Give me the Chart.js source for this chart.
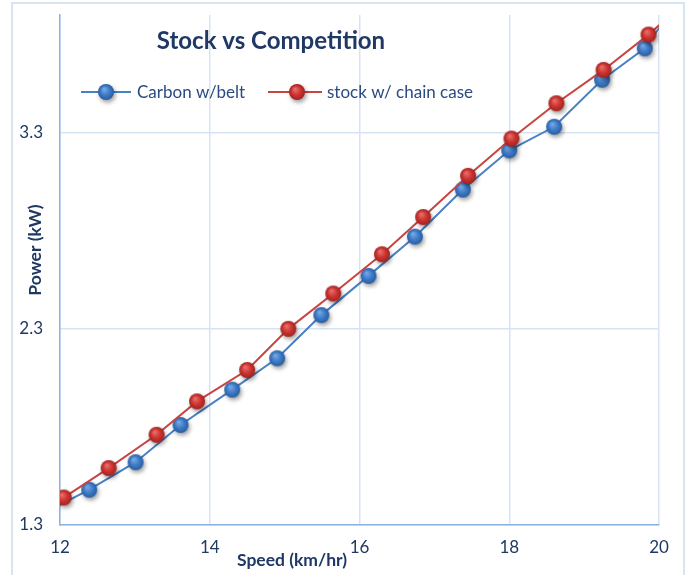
<!DOCTYPE html>
<html>
<head>
<meta charset="utf-8">
<script src="https://cdn.jsdelivr.net/npm/chart.js@4.4.1/dist/chart.umd.min.js"></script>
<style>
  html, body { margin: 0; padding: 0; background: #ffffff; }
  #wrap { width: 688px; height: 575px; position: relative; }
</style>
</head>
<body>
<div id="wrap"><canvas id="chart" width="688" height="575"></canvas></div>
<script>
// Texts
const chartTitle = 'Stock vs Competition';
const xAxisTitle = 'Speed (km/hr)';
const yAxisTitle = 'Power (kW)';
const seriesNames = ['Carbon w/belt', 'stock w/ chain case'];

// Carbon frame with belt drive
const carbonSpeed = [11.79, 12.39, 13.01, 13.61, 14.30, 14.90, 15.49, 16.12, 16.74, 17.38, 18.00, 18.60, 19.24, 19.81, 20.40];
const carbonPower = [1.36, 1.48, 1.62, 1.81, 1.99, 2.15, 2.37, 2.57, 2.77, 3.01, 3.21, 3.33, 3.57, 3.73, 4.05];

// Stock bike with chain case
const chainSpeed = [12.05, 12.65, 13.29, 13.83, 14.50, 15.05, 15.65, 16.30, 16.85, 17.45, 18.03, 18.63, 19.26, 19.86, 20.45];
const chainPower = [1.44, 1.59, 1.76, 1.93, 2.09, 2.30, 2.48, 2.68, 2.87, 3.08, 3.27, 3.45, 3.62, 3.80, 4.00];

// Axis ticks
const xTicks = [12, 14, 16, 18, 20];
const yTicks = [1.3, 2.3, 3.3];

const NAVY = '#1F3864';
const FONT = 'Lato, "Open Sans", sans-serif';

// Shaded round marker with a soft drop shadow
function makeMarker(light, base, dark) {
  const size = 30, c = size / 2, r = 8;
  const cv = document.createElement('canvas');
  cv.width = cv.height = size;
  const g = cv.getContext('2d');
  g.shadowColor = 'rgba(0,0,0,0.38)';
  g.shadowBlur = 4;
  g.shadowOffsetX = 1.5;
  g.shadowOffsetY = 2.5;
  const grad = g.createRadialGradient(c - 2, c - 3, 0.5, c, c, r);
  grad.addColorStop(0, light);
  grad.addColorStop(0.55, base);
  grad.addColorStop(1, dark);
  g.fillStyle = grad;
  g.beginPath();
  g.arc(c, c, r, 0, Math.PI * 2);
  g.fill();
  return cv;
}

const blueMarker = makeMarker('#78A9E4', '#3D7BC8', '#2A5C9F');
const redMarker = makeMarker('#E8706B', '#CD3430', '#A02220');

const toPoints = (xs, ys) => xs.map((x, i) => ({ x: x, y: ys[i] }));

const datasets = [
  {
    label: seriesNames[0],
    data: toPoints(carbonSpeed, carbonPower),
    borderColor: '#4A80C4',
    borderWidth: 2,
    pointStyle: blueMarker,
    order: 1
  },
  {
    label: seriesNames[1],
    data: toPoints(chainSpeed, chainPower),
    borderColor: '#C84442',
    borderWidth: 2,
    pointStyle: redMarker,
    order: 0
  }
];

// Fixed scale sizes, no extra label padding around the plot
function fixScale(size) {
  return (scale) => {
    if (scale.isHorizontal()) scale.height = size; else scale.width = size;
    scale.paddingTop = 0;
    scale.paddingBottom = 0;
    scale.paddingLeft = 0;
    scale.paddingRight = 0;
  };
}

// Frame, title, legend and axis titles drawn on the canvas
const decorations = {
  id: 'decorations',
  beforeDraw(chart) {
    const ctx = chart.ctx;
    ctx.save();
    ctx.fillStyle = '#ffffff';
    ctx.fillRect(0, 0, chart.width, chart.height);
    ctx.strokeStyle = '#CADBF0';
    ctx.lineWidth = 1.5;
    ctx.strokeRect(12, 3, 672, 640);
    ctx.restore();
  },
  afterDraw(chart) {
    const ctx = chart.ctx;
    ctx.save();
    ctx.fillStyle = NAVY;
    ctx.textBaseline = 'middle';

    // Title
    ctx.font = 'bold 24px ' + FONT;
    ctx.textAlign = 'center';
    ctx.fillText(chartTitle, 271, 41);

    // X axis title
    ctx.font = 'bold 17.5px ' + FONT;
    ctx.fillText(xAxisTitle, 292, 560);

    // Y axis title
    ctx.save();
    ctx.translate(35, 250);
    ctx.rotate(-Math.PI / 2);
    ctx.fillText(yAxisTitle, 0, 0);
    ctx.restore();

    // Legend
    const items = [
      { lineFrom: 81, lineTo: 131, marker: 106, text: 137 },
      { lineFrom: 268, lineTo: 322, marker: 297, text: 327 }
    ];
    const ly = 92;
    ctx.font = '17px ' + FONT;
    ctx.textAlign = 'left';
    chart.data.datasets.forEach((ds, i) => {
      const it = items[i];
      ctx.strokeStyle = ds.borderColor;
      ctx.lineWidth = ds.borderWidth;
      ctx.beginPath();
      ctx.moveTo(it.lineFrom, ly);
      ctx.lineTo(it.lineTo, ly);
      ctx.stroke();
      const m = ds.pointStyle;
      ctx.drawImage(m, it.marker - m.width / 2, ly - m.height / 2);
      ctx.fillStyle = '#2A4A80';
      ctx.fillText(ds.label, it.text, ly + 1);
    });
    ctx.restore();
  }
};

new Chart(document.getElementById('chart'), {
  type: 'scatter',
  data: { datasets: datasets },
  options: {
    responsive: false,
    devicePixelRatio: 1,
    animation: false,
    showLine: true,
    layout: { autoPadding: false, padding: { left: 0, right: 29, top: 15, bottom: 0 } },
    plugins: {
      legend: { display: false },
      title: { display: false },
      tooltip: { enabled: false }
    },
    scales: {
      x: {
        type: 'linear',
        min: 12,
        max: 20,
        afterBuildTicks: (scale) => { scale.ticks = xTicks.map(v => ({ value: v })); },
        afterFit: fixScale(50),
        grid: { color: '#D5E3F5', lineWidth: 1.5, drawTicks: false },
        border: { color: '#8DB3E2', width: 1.5 },
        ticks: { padding: 12, color: NAVY, font: { family: FONT, size: 17 }, maxRotation: 0 }
      },
      y: {
        type: 'linear',
        min: 1.3,
        max: 3.9,
        afterBuildTicks: (scale) => { scale.ticks = yTicks.map(v => ({ value: v })); },
        afterFit: fixScale(60),
        grid: { color: '#D5E3F5', lineWidth: 1.5, drawTicks: false },
        border: { color: '#8DB3E2', width: 1.5 },
        ticks: { padding: 17, color: NAVY, font: { family: FONT, size: 17 }, callback: (v) => v.toFixed(1) }
      }
    }
  },
  plugins: [decorations]
});
</script>
</body>
</html>
